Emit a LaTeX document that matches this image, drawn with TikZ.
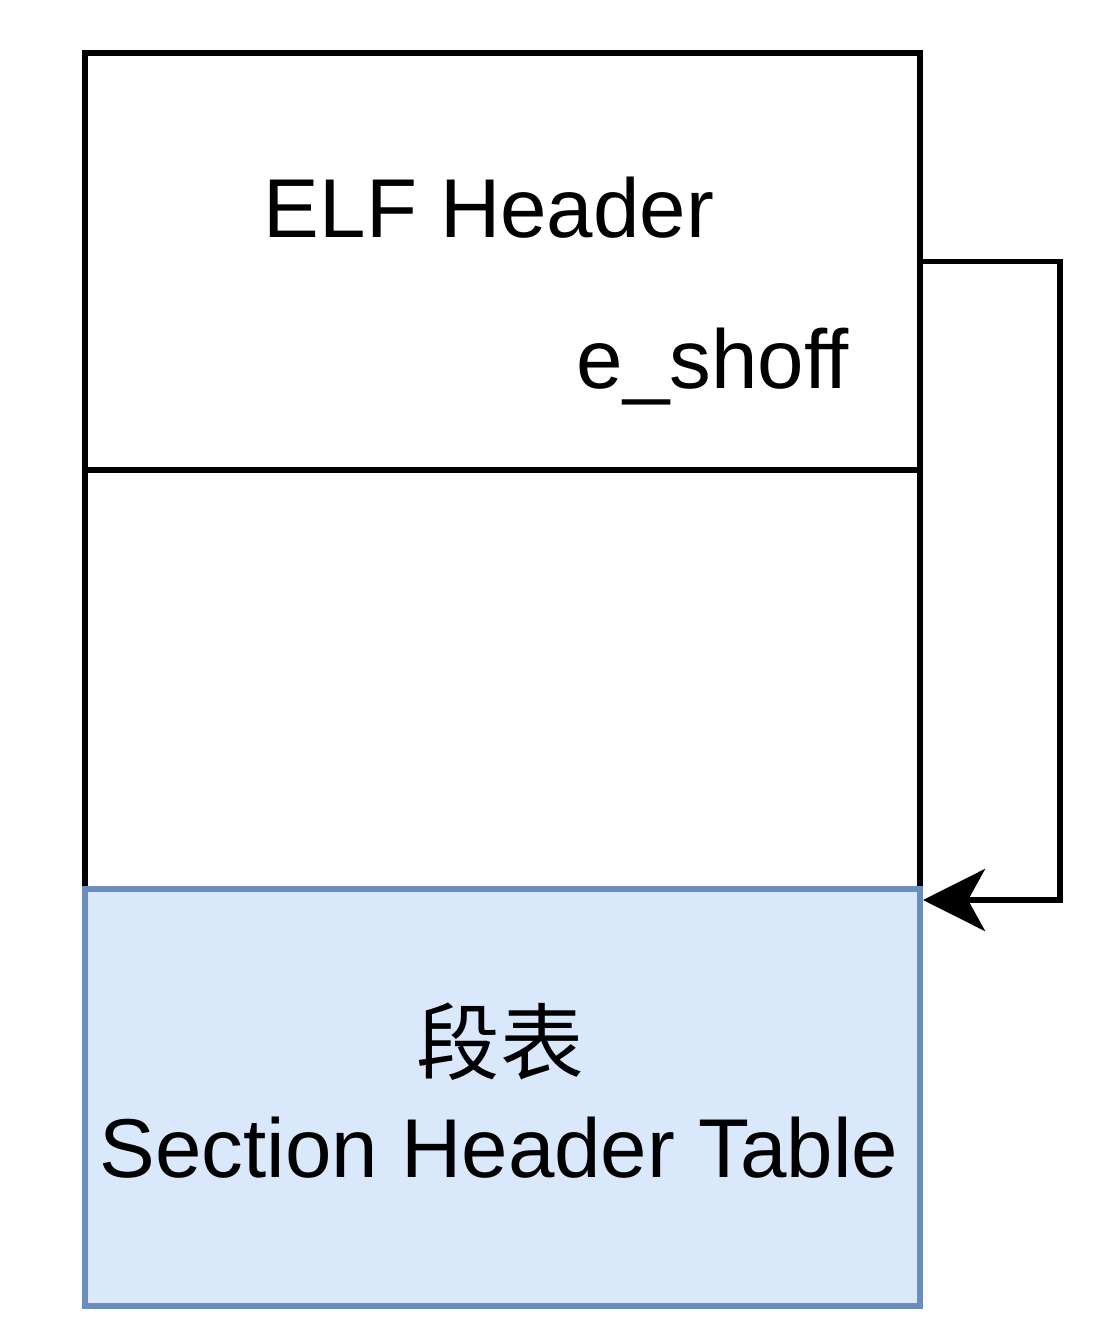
\documentclass[tikz,border=0pt]{standalone}
\usepackage{fontspec}
\setmainfont{Liberation Sans}
\newfontfamily\cjk{Noto Sans CJK SC}
\usepackage{tikz}
\usetikzlibrary{arrows.meta,positioning,calc}

\begin{document}
\begin{tikzpicture}[x=1pt,y=-1pt,
   part/.style={draw=black, line width=6.5pt, outer sep=0pt, minimum width=835, anchor=north west},
   tbl/.style={part, draw=tblline, fill=tblfill},
   lbl/.style={anchor=base, inner sep=0pt, font=\fontsize{83.5}{100}\selectfont},
   conn/.style={line width=5.5pt, -{Stealth[length=62pt,width=62pt,inset=17pt]}}]
   \definecolor{tblfill}{HTML}{DAE8FC}
   \definecolor{tblline}{HTML}{6C8EBF}
   \useasboundingbox (0,0) rectangle (1101,1337);
   % the three parts of the file
   \node[part, minimum height=417] (elf) at (85,53) {};
   \node[part, minimum height=419] (mid) at (85,470) {};
   \node[tbl, minimum height=417] (sht) at (85,889) {};
   % texts
   \node[lbl] (elfname) at (489,238) {ELF Header};
   \node[lbl] (shoff) at (713,388) {e\_shoff};
   \node[lbl] (shtcn) at (500,1073) {\cjk 段表};
   \node[lbl] (shtname) at (499,1177) {Section Header Table};
   % e_shoff points to the table
   \coordinate (into) at (923,900);
   \draw[conn] (elf.east) -- ++(140,0) |- (into);
\end{tikzpicture}
\end{document}
